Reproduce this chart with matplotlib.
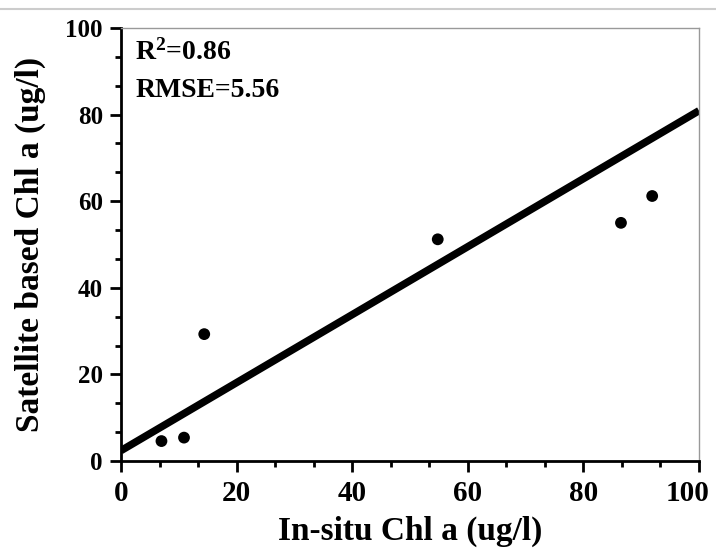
import matplotlib
matplotlib.use("Agg")
import matplotlib.pyplot as plt
import numpy as np
from matplotlib.ticker import MultipleLocator
from matplotlib.lines import Line2D
from matplotlib.transforms import ScaledTranslation

# data
insitu = [7.0, 10.9, 14.4, 54.8, 86.5, 91.9]
satellite = [4.6, 5.4, 29.3, 51.2, 55.0, 61.2]
fit_intercept = 2.4
fit_slope = 0.785
fit_x = [0, 100]
stats_text = ["R$^{2}$=0.86", "RMSE=5.56"]

plt.rcParams['font.family'] = ['Liberation Serif', 'DejaVu Serif']
plt.rcParams['mathtext.fontset'] = 'custom'
plt.rcParams['mathtext.rm'] = 'Liberation Serif:bold'
plt.rcParams['mathtext.it'] = 'Liberation Serif:bold'
plt.rcParams['mathtext.bf'] = 'Liberation Serif:bold'

fig = plt.figure(figsize=(7.16, 5.5), dpi=100)
ax = fig.add_axes([121/716, 1-461/550, (699-121)/716, (461-28)/550])

fx = np.array(fit_x, dtype=float)
ax.plot(fx, fit_intercept + fit_slope*fx, color='black', lw=5.4, solid_capstyle='butt', zorder=2)
ax.scatter(insitu, satellite, s=72, color='black', zorder=3, edgecolors='none')

ax.set_xlim(0, 100)
ax.set_ylim(0, 100)
ax.xaxis.set_major_locator(MultipleLocator(20))
ax.xaxis.set_minor_locator(MultipleLocator(20/3))
ax.yaxis.set_major_locator(MultipleLocator(20))
ax.yaxis.set_minor_locator(MultipleLocator(20/3))

for s in ['left', 'bottom']:
    ax.spines[s].set_linewidth(2.0)
    ax.spines[s].set_color('black')
for s in ['top', 'right']:
    ax.spines[s].set_linewidth(1.0)
    ax.spines[s].set_color('#999999')

ax.tick_params(which='major', direction='out', length=8, width=2.0, top=False, right=False)
ax.tick_params(which='minor', direction='out', length=4.5, width=2.0, top=False, right=False)
ax.tick_params(axis='x', which='major', labelsize=21, pad=6)
ax.tick_params(axis='y', which='major', labelsize=18, pad=5)
for lab in ax.get_xticklabels() + ax.get_yticklabels():
    lab.set_fontweight('bold')

fig.canvas.draw()
xlabels = ax.get_xticklabels()
last = [l for l in xlabels if l.get_text() == '100']
for l in last:
    l.set_transform(l.get_transform() + ScaledTranslation(-11/100, 0, fig.dpi_scale_trans))

ax.set_xlabel("In-situ Chl a (ug/l)", fontsize=24, fontweight='bold', labelpad=6)
ax.set_ylabel("Satellite based Chl a (ug/l)", fontsize=24, fontweight='bold', labelpad=14)

ax.text(0.025, 0.975, stats_text[0], transform=ax.transAxes, fontsize=20, fontweight='bold',
        va='top', ha='left')
ax.text(0.025, 0.885, stats_text[1], transform=ax.transAxes, fontsize=20, fontweight='bold',
        va='top', ha='left')

fig.add_artist(Line2D([0, 1], [1-9/550, 1-9/550], transform=fig.transFigure,
                      color='#cccccc', lw=1.5))

fig.savefig("out.png", dpi=100)
